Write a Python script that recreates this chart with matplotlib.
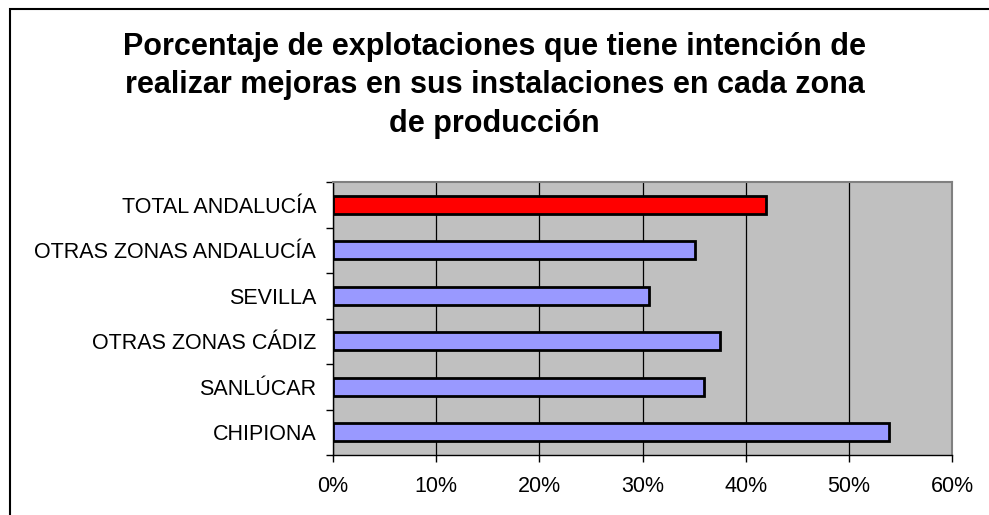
import numpy as np
import matplotlib.pyplot as plt
from matplotlib.patches import Rectangle
from matplotlib.ticker import FuncFormatter

plt.rcParams['font.family'] = ['Liberation Sans', 'DejaVu Sans']

zonas = ["CHIPIONA", "SANLÚCAR", "OTRAS ZONAS CÁDIZ", "SEVILLA",
         "OTRAS ZONAS ANDALUCÍA", "TOTAL ANDALUCÍA"]
valores = [53.9, 36.0, 37.5, 30.6, 35.1, 42.0]
colores = ["#9999FF", "#9999FF", "#9999FF", "#9999FF", "#9999FF", "#FF0000"]
xticks = [0, 10, 20, 30, 40, 50, 60]

W, H = 989, 515
fig = plt.figure(figsize=(W / 100, H / 100), dpi=100)
ax = fig.add_axes([333 / W, 1 - 455 / H, 619 / W, 273 / H])

# marco exterior (solo se ven los bordes izquierdo y superior)
fig.patches.append(Rectangle((10 / W, -0.1), 1.1, 1.1 - 9 / H,
                             transform=fig.transFigure, fill=False,
                             edgecolor="black", linewidth=1.5))

y = np.arange(len(zonas))
ax.barh(y, valores, height=0.4, color=colores, edgecolor="black",
        linewidth=2, zorder=3)

ax.set_facecolor("#C0C0C0")
ax.set_xlim(0, 60)
ax.set_ylim(-0.5, len(zonas) - 0.5)
ax.set_xticks(xticks)
ax.xaxis.set_major_formatter(FuncFormatter(lambda v, p: f"{v:.0f}%"))
ax.grid(axis="x", color="black", linewidth=0.9, zorder=1)

ax.set_yticks(y)
ax.set_yticklabels(zonas)
ax.set_yticks(np.arange(len(zonas) + 1) - 0.5, minor=True)
ax.tick_params(axis="y", which="major", length=0, pad=12, labelsize=15.5)
ax.tick_params(axis="y", which="minor", length=5, direction="out", width=1)
ax.tick_params(axis="x", length=5, direction="out", width=1, pad=10,
               labelsize=15.5)

for s in ["top", "right"]:
    ax.spines[s].set_color("#808080")
    ax.spines[s].set_linewidth(1.5)
for s in ["left", "bottom"]:
    ax.spines[s].set_color("black")
    ax.spines[s].set_linewidth(1)

fig.text(0.5, 1 - 32 / H,
         "Porcentaje de explotaciones que tiene intención de\n"
         "realizar mejoras en sus instalaciones en cada zona\n"
         "de producción",
         ha="center", va="top", fontsize=22, fontweight="bold",
         linespacing=1.36)

fig.savefig("out.png", dpi=100)
